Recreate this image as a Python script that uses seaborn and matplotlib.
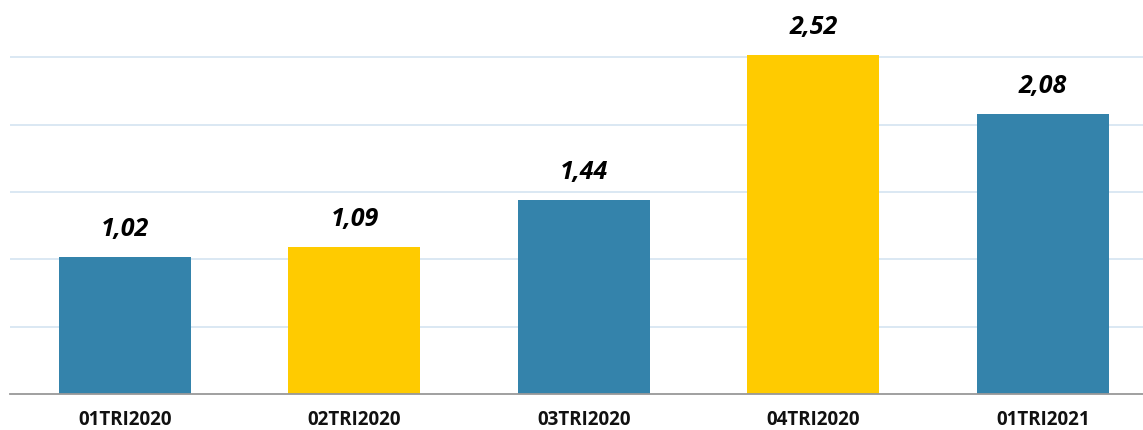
import matplotlib
matplotlib.use("Agg")
import matplotlib.pyplot as plt
import seaborn as sns

# Quarterly values
quarters = ["01TRI2020", "02TRI2020", "03TRI2020", "04TRI2020", "01TRI2021"]
values = [1.02, 1.09, 1.44, 2.52, 2.08]
value_labels = ["1,02", "1,09", "1,44", "2,52", "2,08"]
bar_colors = ["#3483AB", "#FFCB00", "#3483AB", "#FFCB00", "#3483AB"]

sns.set_theme(style="white")
plt.rcParams["font.family"] = ["Open Sans", "DejaVu Sans"]

fig = plt.figure(figsize=(11.43, 4.30), dpi=100)
ax = fig.add_axes([10 / 1143, 36 / 430, 1 - 10 / 1143, 394 / 430])

sns.barplot(x=quarters, y=values, hue=quarters, palette=bar_colors,
            width=0.575, legend=False, ax=ax, saturation=1, linewidth=0)

ax.set_xlim(-0.501, 4.436)
ax.set_ylim(0, 2.926)
ax.set_yticks([0.5, 1.0, 1.5, 2.0, 2.5])
ax.yaxis.grid(True, color="#D8E6F2", linewidth=1.3)
ax.set_axisbelow(True)
ax.tick_params(axis="y", left=False, labelleft=False)
ax.tick_params(axis="x", bottom=False, pad=5.5)
for lbl in ax.get_xticklabels():
    lbl.set_fontweight("bold")
    lbl.set_fontsize(13.5)
    lbl.set_color("#111111")

for side in ["top", "right", "left"]:
    ax.spines[side].set_visible(False)
ax.spines["bottom"].set_color("#999999")
ax.spines["bottom"].set_linewidth(1.3)
ax.set_xlabel("")
ax.set_ylabel("")

for i, (v, txt) in enumerate(zip(values, value_labels)):
    ax.annotate(txt, xy=(i, v), xytext=(0, 15), textcoords="offset points",
                ha="center", va="baseline", fontsize=18,
                fontweight="bold", fontstyle="italic", color="#000000")

fig.savefig("out.png", dpi=100)
